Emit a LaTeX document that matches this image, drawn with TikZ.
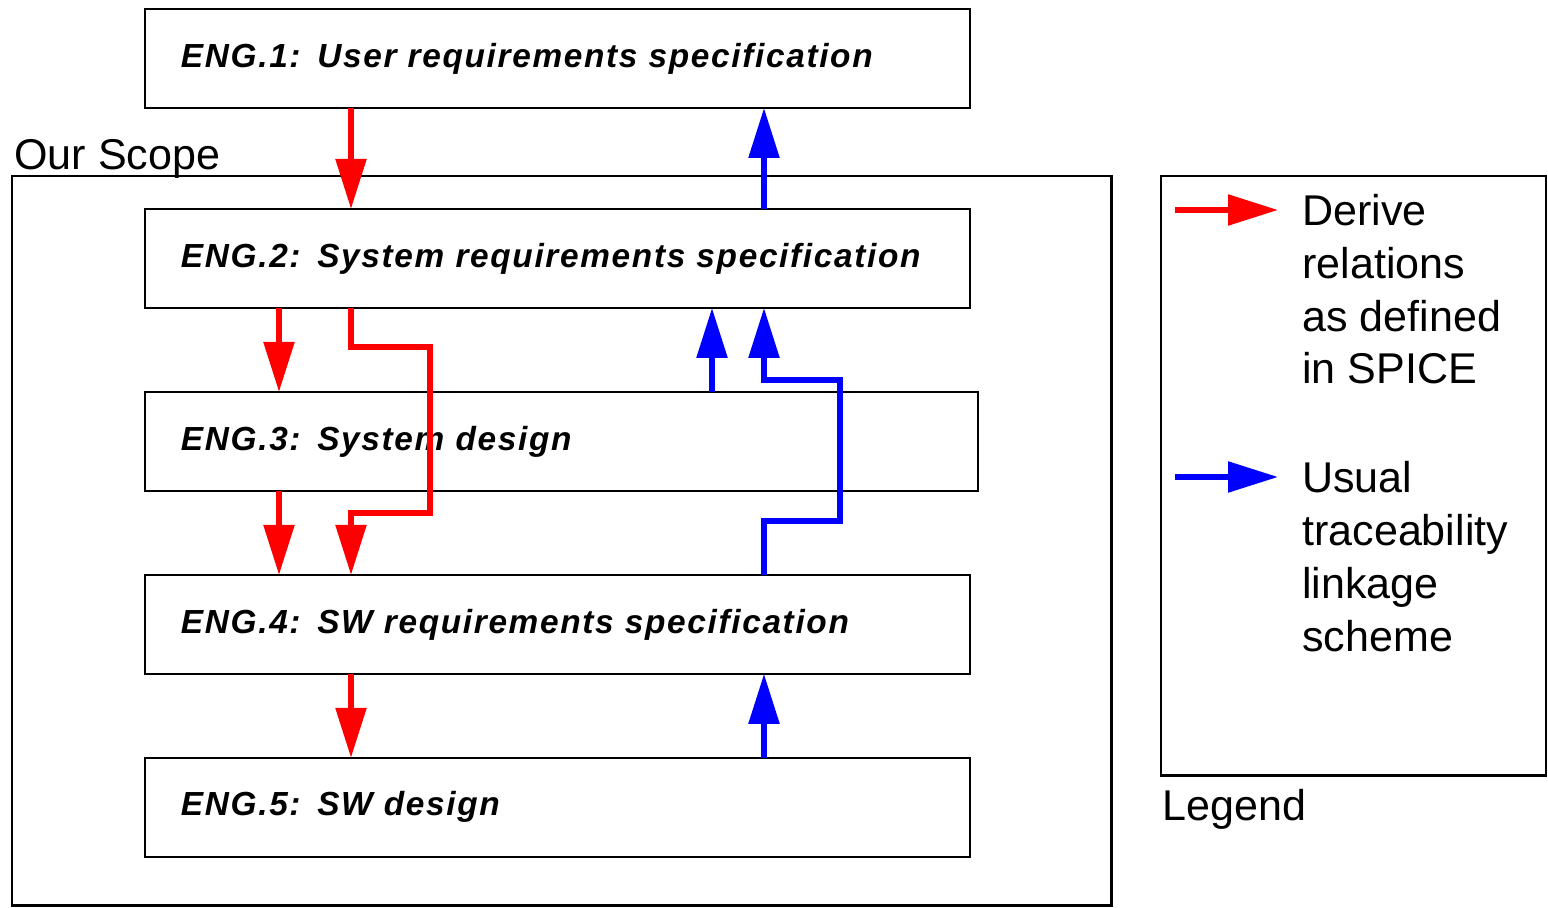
\documentclass[tikz,border=0pt]{standalone}
\usepackage{fontspec}
\newfontfamily\labelfont{Liberation Sans}
\newfontfamily\boxfont[LetterSpace=5]{Liberation Sans}
\usetikzlibrary{arrows.meta, positioning}
\tikzset{
  stage/.style={draw, line width=1.1pt, outer sep=0pt, minimum width=16.5cm, minimum height=1.98cm, text width=15.06cm, inner xsep=0.72cm, align=left, font=\boxfont\bfseries\itshape\fontsize{19}{22}\selectfont},
  frame/.style={draw, line width=1.6pt, inner sep=0pt, outer sep=0pt},
  biglabel/.style={inner sep=0pt, align=left, font=\labelfont\fontsize{24.5}{30}\selectfont},
  derive/.style={-{Triangle[length=1cm, width=0.6cm]}, line width=0.11cm, red},
  trace/.style={-{Triangle[length=1cm, width=0.6cm]}, line width=0.11cm, blue}
}

\begin{document}
\begin{tikzpicture}[x=0.02cm, y=-0.02cm]
    \useasboundingbox (0,0) rectangle (1548,908);
    % scope and legend frames
    \node[frame, anchor=north west, minimum width=22cm, minimum height=14.6cm] (scope) at (12,176) {};
    \node[biglabel, anchor=base west] (scopelbl) at (14,170) {Our Scope};
    \node[frame, anchor=north west, minimum width=7.7cm, minimum height=12cm] (legend) at (1161,176) {};
    \node[biglabel, anchor=base west] (legendlbl) at (1162,820) {Legend};
    % process stack
    \node[stage, anchor=north west] (eng1) at (145,9) {ENG.1: User requirements specification};
    \node[stage, below right=2.02cm and 0cm of eng1.south west] (eng2) {ENG.2: System requirements specification};
    \node[stage, below right=1.68cm and 0cm of eng2.south west, minimum width=16.66cm, text width=15.22cm] (eng3) {ENG.3: System design};
    \node[stage, below right=1.68cm and 0cm of eng3.south west] (eng4) {ENG.4: SW requirements specification};
    \node[stage, below right=1.68cm and 0cm of eng4.south west] (eng5) {ENG.5: SW design};
    % arrow columns and bends
    \coordinate (colA) at (279,0);
    \coordinate (colB) at (351,0);
    \coordinate (colC) at (712,0);
    \coordinate (colD) at (764,0);
    \coordinate (rbendA) at (430,347);
    \coordinate (rbendB) at (430,513);
    \coordinate (bbendA) at (840,521);
    \coordinate (bbendB) at (840,380);
    \draw[derive] (eng1.south -| colB) -- (eng2.north -| colB);
    \draw[trace] (eng2.north -| colD) -- (eng1.south -| colD);
    \draw[derive] (eng2.south -| colA) -- (eng3.north -| colA);
    \draw[derive] (eng2.south -| colB) |- (rbendA) -- (rbendB) -| (eng4.north -| colB);
    \draw[trace] (eng3.north -| colC) -- (eng2.south -| colC);
    \draw[trace] (eng4.north -| colD) |- (bbendA) -- (bbendB) -| (eng2.south -| colD);
    \draw[derive] (eng3.south -| colA) -- (eng4.north -| colA);
    \draw[derive] (eng4.south -| colB) -- (eng5.north -| colB);
    \draw[trace] (eng5.north -| colD) -- (eng4.south -| colD);
    % legend entries (base = last line)
    \node[biglabel, anchor=base west] (derivetxt) at (1302,384) {Derive\\relations\\as defined\\in SPICE};
    \node[biglabel, anchor=base west] (tracetxt) at (1302,651) {Usual\\traceability\\linkage\\scheme};
    \coordinate (derivekey) at (1175,210);
    \coordinate (tracekey) at (1175,477);
    \draw[derive] (derivekey) -- ++(103,0);
    \draw[trace] (tracekey) -- ++(103,0);
\end{tikzpicture}
\end{document}
